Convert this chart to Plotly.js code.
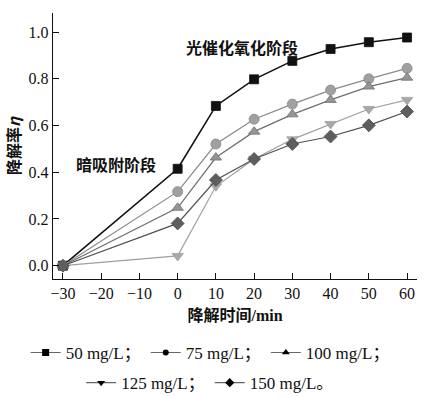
<!DOCTYPE html>
<html>
<head>
<meta charset="utf-8">
<script src="https://cdn.plot.ly/plotly-3.0.1.min.js"></script>
<style>html,body{margin:0;padding:0;background:#fff;}#chart{width:428px;height:397px;}</style>
</head>
<body>
<div id="chart"></div>
<script>
const times = [-30, 0, 10, 20, 30, 40, 50, 60];
const names = ['50 mg/L；', '75 mg/L；', '100 mg/L；', '125 mg/L；', '150 mg/L。'];
const c50  = [0, 0.415, 0.684, 0.798, 0.877, 0.928, 0.957, 0.977];
const c75  = [0, 0.317, 0.521, 0.627, 0.692, 0.752, 0.800, 0.845];
const c100 = [0, 0.248, 0.463, 0.574, 0.648, 0.710, 0.767, 0.805];
const c125 = [0, 0.042, 0.340, 0.457, 0.541, 0.607, 0.671, 0.710];
const c150 = [0, 0.181, 0.367, 0.457, 0.521, 0.553, 0.601, 0.660];
const xTicks = [-30, -20, -10, 0, 10, 20, 30, 40, 50, 60];
const yTicks = [0, 0.2, 0.4, 0.6, 0.8, 1.0];

const series = [c50, c75, c100, c125, c150];
const symbols = ['square', 'circle', 'triangle-up', 'triangle-down', 'diamond'];
const fills = ['#111111', '#a0a0a0', '#959595', '#a8a8a8', '#5e5e5e'];
const lines = ['#111111', '#8a8a8a', '#6e6e6e', '#a0a0a0', '#505050'];
const sizes = [9, 10, 10, 10, 10];
const legendSym = [7, 6, 7, 7, 7];

const traces = [];
series.forEach((ys, i) => {
  traces.push({
    x: times, y: ys, type: 'scatter', mode: 'lines+markers', showlegend: false,
    line: {color: lines[i], width: i === 0 ? 1.6 : 1.2},
    marker: {symbol: symbols[i], size: sizes[i], color: fills[i], line: {color: lines[i], width: 0.8}}
  });
});
// legend entries (black markers on grey lines as in the reference key)
series.forEach((ys, i) => {
  traces.push({
    x: [null], y: [null], type: 'scatter', mode: 'lines+markers', name: names[i],
    legend: i < 3 ? 'legend' : 'legend2',
    line: {color: '#666', width: 1.2},
    marker: {symbol: symbols[i], size: legendSym[i], color: '#000'}
  });
});

const serif = 'Liberation Serif, Times New Roman, Noto Sans CJK SC, serif';
const layout = {
  width: 428, height: 397,
  margin: {l: 53, r: 11, t: 13, b: 118},
  paper_bgcolor: '#fff', plot_bgcolor: '#fff',
  font: {family: serif, size: 16, color: '#111'},
  xaxis: {
    range: [-32.6, 62.6], tickvals: xTicks, ticktext: xTicks.map(v => v < 0 ? '\u2212' + Math.abs(v) : String(v)),
    ticks: 'inside', ticklen: 6, tickwidth: 1, tickcolor: '#111',
    showline: true, linecolor: '#111', linewidth: 1.2, showgrid: false, zeroline: false,
    tickfont: {family: serif, size: 16, color: '#111'}, automargin: true,
    title: {text: '<b>降解时间/min</b>', font: {family: 'Liberation Serif, Noto Sans CJK SC', size: 16, color: '#111'}, standoff: 8}
  },
  yaxis: {
    range: [-0.057, 1.082], tickvals: yTicks, ticktext: yTicks.map(v => v.toFixed(1)),
    ticks: 'inside', ticklen: 6, tickwidth: 1, tickcolor: '#111',
    showline: true, linecolor: '#111', linewidth: 1.2, showgrid: false, zeroline: false,
    tickfont: {family: serif, size: 16, color: '#111'},
    title: {text: '<b>降解率<i>η</i></b>', font: {family: 'Noto Sans CJK SC, Liberation Serif', size: 16, color: '#111'}, standoff: 4}
  },
  legend: {
    orientation: 'h', xref: 'container', yref: 'container', x: 0.491, xanchor: 'center', y: 0.111, yanchor: 'middle',
    font: {family: serif, size: 17, color: '#111'}, bgcolor: 'rgba(0,0,0,0)', itemwidth: 30
  },
  legend2: {
    orientation: 'h', xref: 'container', yref: 'container', x: 0.491, xanchor: 'center', y: 0.035, yanchor: 'middle',
    font: {family: serif, size: 17, color: '#111'}, bgcolor: 'rgba(0,0,0,0)', itemwidth: 30
  },
  annotations: [
    {x: 16.8, y: 0.937, xref: 'x', yref: 'y', text: '<b>光催化氧化阶段</b>', showarrow: false,
     font: {family: 'Noto Sans CJK SC', size: 16, color: '#111'}},
    {x: -16.2, y: 0.435, xref: 'x', yref: 'y', text: '<b>暗吸附阶段</b>', showarrow: false,
     font: {family: 'Noto Sans CJK SC', size: 16, color: '#111'}}
  ]
};
Plotly.newPlot('chart', traces, layout, {displayModeBar: false, staticPlot: true});
</script>
</body>
</html>
